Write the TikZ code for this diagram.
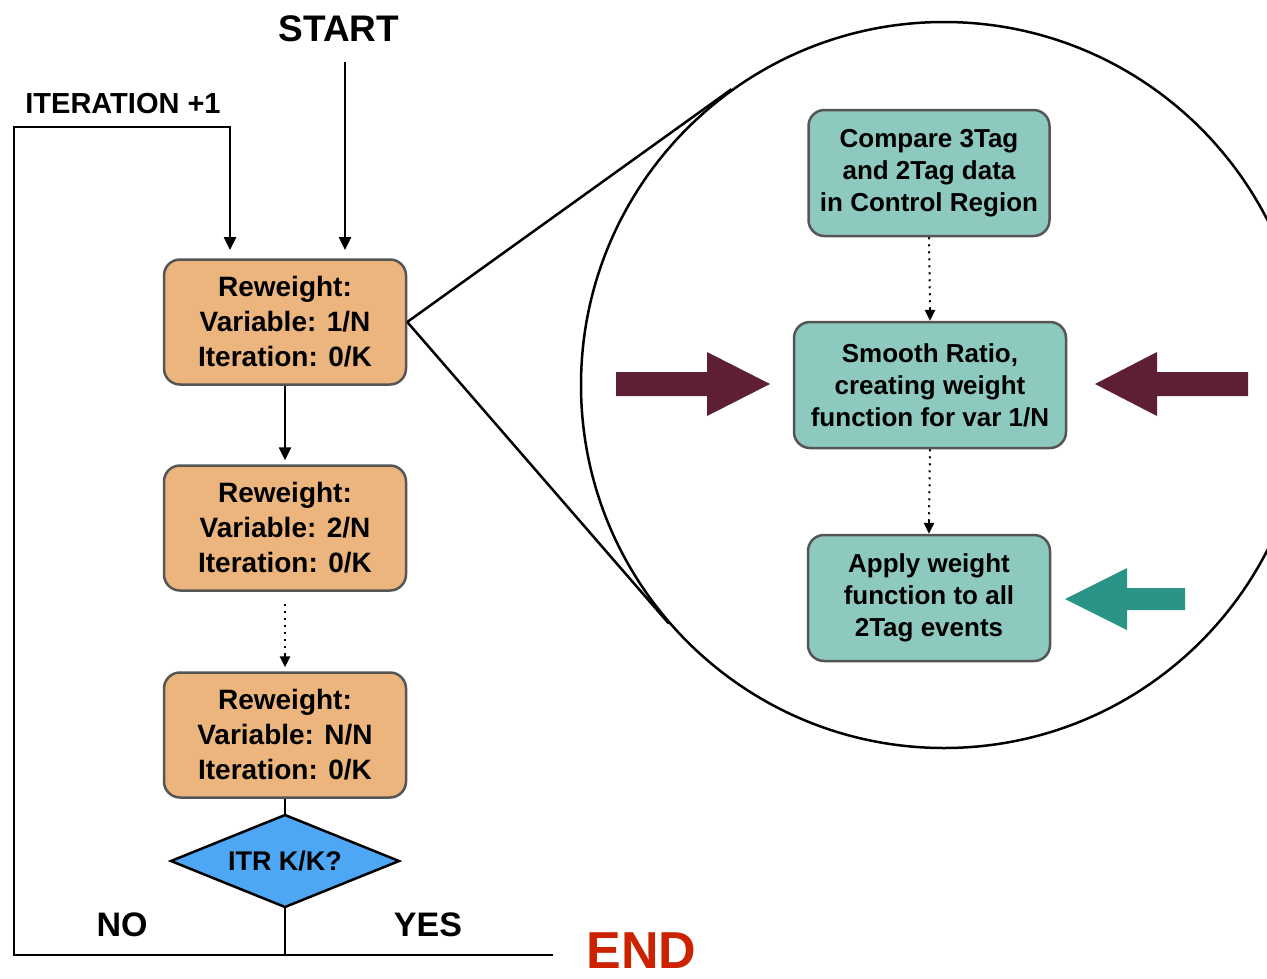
\documentclass[tikz,border=0pt]{standalone}
\usepackage{fontspec}
\setmainfont{Liberation Sans}
\usetikzlibrary{shapes.geometric,arrows.meta,calc}
\definecolor{boxorange}{HTML}{ECB57E}
\definecolor{boxteal}{HTML}{8DC9BF}
\definecolor{diamblue}{HTML}{4EA7F5}
\definecolor{maroon}{HTML}{5E1E33}
\definecolor{tealarrow}{HTML}{2A9487}
\definecolor{endred}{HTML}{CC2200}
\definecolor{boxborder}{HTML}{555555}
\begin{document}
\begin{tikzpicture}[x=1pt,y=-1pt,
  line width=2.5pt,
  tip/.style={-{Triangle[width=12pt,length=13pt]}},
  smalltip/.style={-{Triangle[width=10pt,length=11pt]}},
  dots/.style={line width=2pt,dash pattern=on 2pt off 5pt},
  obox/.style={draw=boxborder,line width=2.5pt,fill=boxorange,rounded corners=16pt,
    minimum width=242pt,minimum height=125pt,align=center,
    font=\fontsize{28}{35}\selectfont\bfseries},
  tbox/.style={draw=boxborder,line width=2.5pt,fill=boxteal,rounded corners=16pt,
    minimum height=126pt,align=center,
    font=\fontsize{26}{32}\selectfont\bfseries},
  lbl/.style={font=\fontsize{34}{38}\selectfont\bfseries}
]
\clip (0,0) rectangle (1267,978);
\fill[white] (0,0) rectangle (1267,978);

% zoom circle
\node[circle,draw=black,line width=2.5pt,minimum size=726pt,inner sep=0] (zoom) at (944,385) {};

% orange boxes
\node[obox] (r1) at (285,322) {Reweight:\\Variable: 1/N\\Iteration: 0/K};
\node[obox] (r2) at (285,528) {Reweight:\\Variable: 2/N\\Iteration: 0/K};
\node[obox] (r3) at (285,735) {Reweight:\\Variable: N/N\\Iteration: 0/K};

% diamond
\coordinate (itrtop) at (285,815);
\coordinate (itrright) at (399,861);
\coordinate (itrbot) at (285,907);
\coordinate (itrleft) at (171,861);
\filldraw[draw=black,line width=2.5pt,fill=diamblue] (itrtop) -- (itrright) -- (itrbot) -- (itrleft) -- cycle;
\node[font=\fontsize{27}{30}\selectfont\bfseries] (itr) at (285,861) {ITR K/K?};

% labels
\node[font=\fontsize{37}{40}\selectfont\bfseries] (start) at (339,29) {START};
\node[font=\fontsize{29}{32}\selectfont\bfseries] (iter) at (123,104) {ITERATION +1};
\node[lbl] (no) at (122,925) {NO};
\node[lbl] (yes) at (428,925) {YES};
\node[font=\fontsize{52}{56}\selectfont\bfseries,text=endred,anchor=west] (end) at (582,951) {END};

% teal boxes
\node[tbox,minimum width=241pt] (t1) at (929,173) {Compare 3Tag\\and 2Tag data\\in Control Region};
\node[tbox,minimum width=272pt] (t2) at (930,385) {Smooth Ratio,\\creating weight\\function for var 1/N};
\node[tbox,minimum width=242pt] (t3) at (929,598) {Apply weight\\function to all\\2Tag events};

% coordinates for connectors
\coordinate (startfrom) at (345,62);
\coordinate (startto) at (345,250);
\coordinate (loopA) at (14,955);
\coordinate (loopB) at (14,127);
\coordinate (loopC) at (230,127);
\coordinate (loopto) at (230,250);
\coordinate (yesend) at (553,955);
\coordinate (bottomjoin) at (285,955);

% connectors
\draw[tip] (startfrom) -- (startto);
\draw[tip] (bottomjoin) -- (loopA) -- (loopB) -- (loopC) -- (loopto);
\draw (bottomjoin) -- (yesend);
\draw[tip] (r1.south) -- ($(r2.north)+(0,-4)$);
\draw[dots] ($(r2.south)+(0,12)$) -- ($(r3.north)+(0,-16)$);
\draw[smalltip] ($(r3.north)+(0,-17)$) -- ($(r3.north)+(0,-4)$);
\draw (r3.south) -- (itrtop);
\draw (itrbot) -- (bottomjoin);

% tangent lines to zoom circle
\draw (r1.east) -- (tangent cs:node=zoom,point={(r1.east)},solution=1);
\draw (r1.east) -- (tangent cs:node=zoom,point={(r1.east)},solution=2);

% teal dotted connectors
\draw[dots] (t1.south) -- ($(t2.north)+(0,-12)$);
\draw[smalltip] ($(t2.north)+(0,-13)$) -- (t2.north);
\draw[dots] (t2.south) -- ($(t3.north)+(0,-12)$);
\draw[smalltip] ($(t3.north)+(0,-13)$) -- (t3.north);

% big block arrows
\fill[maroon] (616,372) -- (707,372) -- (707,352) -- (770,384) -- (707,416) -- (707,396) -- (616,396) -- cycle;
\fill[maroon] (1248,372) -- (1157,372) -- (1157,352) -- (1095,384) -- (1157,416) -- (1157,396) -- (1248,396) -- cycle;
\fill[tealarrow] (1185,588) -- (1127,588) -- (1127,568) -- (1065,599) -- (1127,630) -- (1127,610) -- (1185,610) -- cycle;
\end{tikzpicture}
\end{document}
